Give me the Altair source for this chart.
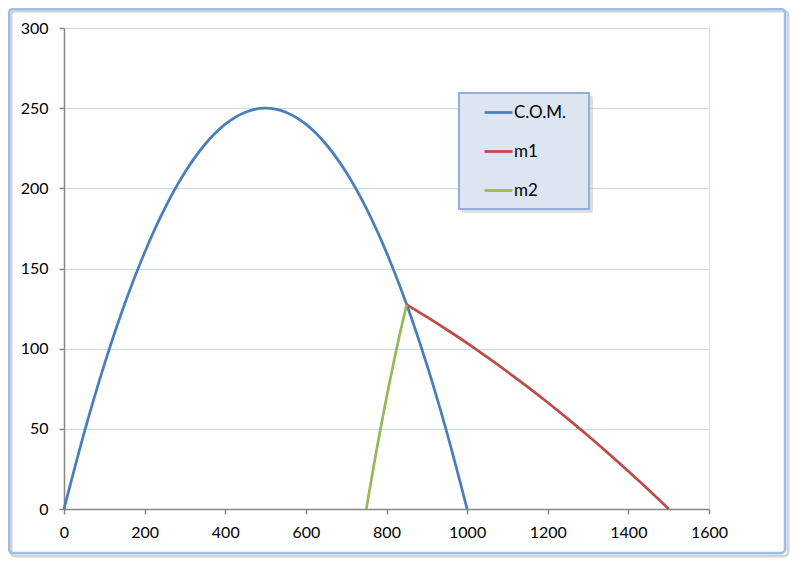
import altair as alt
import pandas as pd

# --- data ---
com_x = [0, 50, 100, 150, 200, 250, 300, 350, 400, 450, 500,
         550, 600, 650, 700, 750, 800, 850, 900, 950, 1000]
com_y = [0, 47.5, 90, 127.5, 160, 187.5, 210, 227.5, 240, 247.5, 250,
         247.5, 240, 227.5, 210, 187.5, 160, 127.5, 90, 47.5, 0]

m1_x = [850, 900, 950, 1000, 1050, 1100, 1150, 1200, 1250, 1300, 1350, 1400, 1450, 1500]
m1_y = [127.5, 119.8, 111.8, 103.5, 94.7, 85.6, 76.2, 66.4, 56.2, 45.7, 34.8, 23.6, 12.0, 0]

m2_x = [850, 840, 830, 820, 810, 800, 790, 780, 770, 760, 750]
m2_y = [127.5, 116.8, 105.6, 94.0, 81.9, 69.4, 56.4, 43.0, 29.1, 14.8, 0]

series_names = ["C.O.M.", "m1", "m2"]
series_colors = ["#4A7EBB", "#BE4B48", "#98B954"]
x_ticks = [0, 200, 400, 600, 800, 1000, 1200, 1400, 1600]
y_ticks = [0, 50, 100, 150, 200, 250, 300]

rows = []
for name, xs, ys in [("C.O.M.", com_x, com_y), ("m1", m1_x, m1_y), ("m2", m2_x, m2_y)]:
    for i, (x, y) in enumerate(zip(xs, ys)):
        rows.append({"series": name, "x": x, "y": y, "order": i})
df = pd.DataFrame(rows)

FONT = "Lato"
W, H = 645, 481

one = pd.DataFrame({"k": [0]})

# outer chart frame (decoration)
frame_shadow = alt.Chart(one).mark_rect(
    fill=None, stroke="#d4d4d4", strokeWidth=3, cornerRadius=4
).encode(x=alt.value(-53), x2=alt.value(724), y=alt.value(-17), y2=alt.value(528))
frame = alt.Chart(one).mark_rect(
    fill=None, stroke="#9DBDE6", strokeWidth=2.5, cornerRadius=4
).encode(x=alt.value(-55), x2=alt.value(721), y=alt.value(-19), y2=alt.value(525))

# legend box (decoration)
leg_shadow = alt.Chart(one).mark_rect(
    fill="#c8c8c8", opacity=0.6, cornerRadius=2
).encode(x=alt.value(398), x2=alt.value(529), y=alt.value(68), y2=alt.value(185))
leg_box = alt.Chart(one).mark_rect(
    fill="#DCE5F1", stroke="#8FB0DA", strokeWidth=2
).encode(x=alt.value(395), x2=alt.value(525), y=alt.value(65), y2=alt.value(181))

lines = alt.Chart(df).mark_line(strokeWidth=2.75, interpolate="monotone").encode(
    x=alt.X("x:Q",
            scale=alt.Scale(domain=[0, 1600], nice=False),
            axis=alt.Axis(values=x_ticks, format="d", grid=False, title=None,
                          labelFlush=False, labelOverlap=False,
                          domainColor="#868686", domainWidth=1.5,
                          tickColor="#868686", tickSize=5, tickWidth=1.5,
                          labelFont=FONT, labelFontSize=16, labelColor="#000000",
                          labelPadding=10)),
    y=alt.Y("y:Q",
            scale=alt.Scale(domain=[0, 300], nice=False),
            axis=alt.Axis(values=y_ticks, format="d", grid=True,
                          gridColor="#C5DAF0", gridWidth=1, title=None,
                          labelFlush=False, labelOverlap=False,
                          domainColor="#868686", domainWidth=1.5,
                          tickColor="#868686", tickSize=5, tickWidth=1.5,
                          labelFont=FONT, labelFontSize=16, labelColor="#000000",
                          labelPadding=11)),
    color=alt.Color("series:N",
                    scale=alt.Scale(domain=series_names, range=series_colors),
                    legend=alt.Legend(orient="none", legendX=419, legendY=69,
                                      title=None, symbolType="stroke",
                                      symbolSize=784, symbolStrokeWidth=2.75,
                                      labelFont=FONT, labelFontSize=17,
                                      labelColor="#000000", labelOffset=0,
                                      rowPadding=15, padding=0)),
    order="order:Q",
)

chart = alt.layer(frame_shadow, frame, leg_shadow, leg_box, lines).properties(
    width=W, height=H,
    autosize=alt.AutoSizeParams(type="none"),
    padding={"left": 56, "top": 20, "right": 83, "bottom": 51},
).configure_view(stroke=None).configure(background="white")

chart.save("out.html", embed_options={"renderer": "svg", "actions": False})
